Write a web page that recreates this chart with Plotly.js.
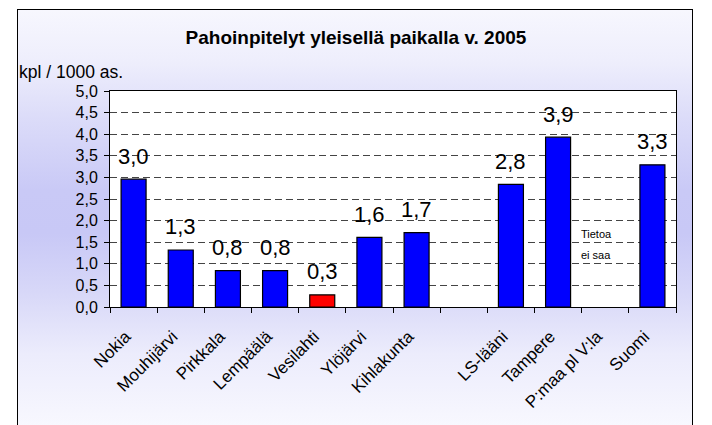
<!DOCTYPE html>
<html>
<head>
<meta charset="utf-8">
<script src="https://cdn.plot.ly/plotly-3.0.1.min.js"></script>
<style>
  html, body { margin: 0; padding: 0; background: #ffffff; }
  #frame {
    position: absolute; left: 17px; top: 9px; width: 674px; height: 430px;
    border-left: 1px solid #000; border-top: 1px solid #000; border-right: 1px solid #000;
    background: linear-gradient(to bottom, #f7f7fe 0%, #eeeefc 12%, #dcdcf9 25%, #c9c9f6 42%, #c8c8f6 52%, #d8d8f8 66%, #ececfc 80%, #fafaff 100%);
  }
  #chart { position: absolute; left: 0; top: 0; width: 712px; height: 425px; }
</style>
</head>
<body>
<div id="frame"></div>
<div id="chart"></div>
<script>
const categories = ["Nokia", "Mouhijärvi", "Pirkkala", "Lempäälä", "Vesilahti", "Ylöjärvi", "Kihlakunta", " ", "LS-lääni", "Tampere", "P:maa pl V:la", "Suomi"];
const values = [2.96, 1.32, 0.84, 0.84, 0.28, 1.61, 1.72, null, 2.84, 3.93, null, 3.29];
const barColors = ["#0000ff", "#0000ff", "#0000ff", "#0000ff", "#ff0000", "#0000ff", "#0000ff", "#0000ff", "#0000ff", "#0000ff", "#0000ff", "#0000ff"];
const yTickVals = [0, 0.5, 1, 1.5, 2, 2.5, 3, 3.5, 4, 4.5, 5];
const titleText = "Pahoinpitelyt yleisellä paikalla v. 2005";
const unitText = "kpl / 1000 as.";
const noDataCategory = "P:maa pl V:la";
const noDataLines = ["Tietoa", "ei saa"];

const FONT = "Liberation Sans, Arial, sans-serif";

const trace = {
  type: "bar",
  x: categories,
  y: values,
  marker: { color: barColors, line: { color: "#000000", width: 1.2 } },
  hoverinfo: "skip"
};

const annotations = [];
categories.forEach((c, i) => {
  if (values[i] === null) return;
  annotations.push({
    x: c, y: values[i], xref: "x", yref: "y",
    text: values[i].toFixed(1).replace(".", ","),
    showarrow: false, yanchor: "middle", yshift: 23,
    font: { family: FONT, size: 22, color: "#000" }
  });
});
annotations.push({
  x: noDataCategory, y: 1.5, xref: "x", yref: "y",
  text: noDataLines[0], showarrow: false, xanchor: "left", yanchor: "middle",
  xshift: -26, yshift: 8, font: { family: FONT, size: 11, color: "#000" }
});
annotations.push({
  x: noDataCategory, y: 1.0, xref: "x", yref: "y",
  text: noDataLines[1], showarrow: false, xanchor: "left", yanchor: "middle",
  xshift: -26, yshift: 9, font: { family: FONT, size: 11, color: "#000" }
});
annotations.push({
  xref: "paper", yref: "paper", x: 0, y: 1, xshift: -93, yshift: 19,
  xanchor: "left", yanchor: "middle", text: unitText, showarrow: false,
  font: { family: FONT, size: 17.5, color: "#000" }
});

const layout = {
  width: 712, height: 425,
  margin: { l: 110, r: 36, t: 91, b: 118 },
  paper_bgcolor: "rgba(0,0,0,0)",
  plot_bgcolor: "#ffffff",
  separators: ", ",
  showlegend: false,
  bargap: 0.47,
  font: { family: FONT, color: "#000" },
  title: {
    text: "<b>" + titleText + "</b>",
    x: 0.5, xref: "container", y: 1 - 37 / 425, yref: "container", yanchor: "middle",
    font: { family: FONT, size: 19, color: "#000" }
  },
  xaxis: {
    type: "category",
    tickangle: -45,
    tickson: "boundaries",
    ticks: "outside", ticklen: 5, tickcolor: "#000",
    showline: true, linecolor: "#000", linewidth: 1,
    mirror: true,
    showgrid: false,
    ticklabelstandoff: 12,
    ticklabelshift: -8,
    tickfont: { family: FONT, size: 17, color: "#000" },
    fixedrange: true
  },
  yaxis: {
    range: [0, 5],
    tickvals: yTickVals,
    tickformat: ".1f",
    ticks: "outside", ticklen: 5, tickcolor: "#000",
    showline: true, linecolor: "#000", linewidth: 1,
    mirror: true,
    showgrid: true, gridcolor: "#444444", gridwidth: 1, griddash: "7px,4px",
    zeroline: false,
    ticklabelstandoff: 3,
    tickfont: { family: FONT, size: 16, color: "#000" },
    fixedrange: true
  },
  annotations: annotations
};

Plotly.newPlot("chart", [trace], layout, { displayModeBar: false, staticPlot: true });
</script>
</body>
</html>
